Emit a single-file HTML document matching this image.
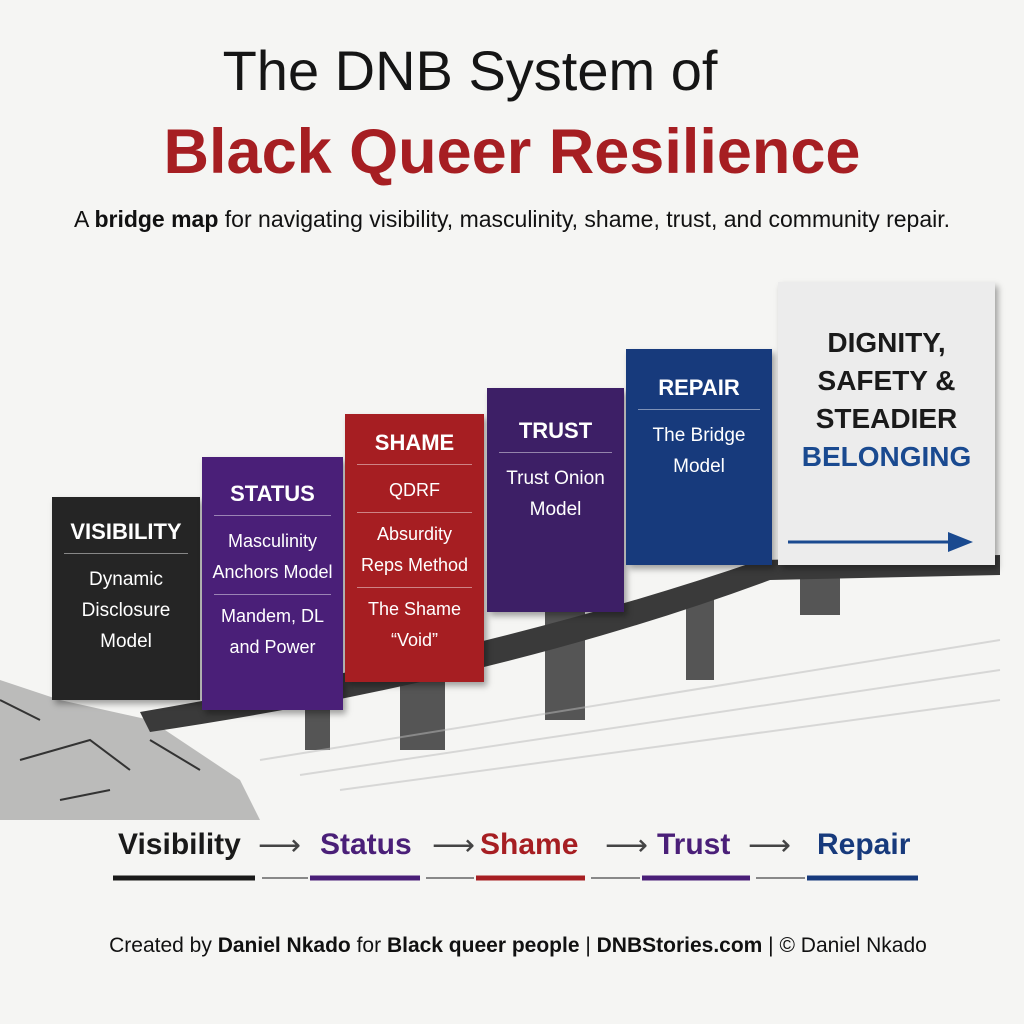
<!DOCTYPE html>
<html><head><meta charset="utf-8"><style>
body{margin:0;width:1024px;height:1024px;background:#f5f5f3;font-family:"Liberation Sans",sans-serif;position:relative;overflow:hidden}
.a{position:absolute}
.blk{position:absolute;color:#fff;text-align:center;box-shadow:3px 4px 6px rgba(0,0,0,.35)}
.blk .h{font-weight:bold;font-size:22px;padding-bottom:8px;border-bottom:1px solid rgba(255,255,255,.45);margin:0 12px 10px}
.blk .t{font-size:19px;line-height:31px}
.blk hr{border:0;border-top:1px solid rgba(255,255,255,.45);margin:6px 12px}
</style></head><body>
<div class="a" style="left:0;width:940px;top:38px;text-align:center;font-size:56px;color:#151515">The DNB System of</div>
<div class="a" style="left:0;width:1024px;top:116px;text-align:center;font-size:63px;font-weight:bold;color:#a61e22">Black Queer Resilience</div>
<div class="a" style="left:0;width:1024px;top:206px;text-align:center;font-size:23px;color:#111">A <b>bridge map</b> for navigating visibility, masculinity, shame, trust, and community repair.</div>

<svg class="a" style="left:0;top:0" width="1024" height="1024">
<path d="M0 680 L60 700 L150 720 L240 780 L260 820 L0 820Z" fill="#8a8a8a" opacity=".55"/>
<path d="M0 700 L40 720 M20 760 L90 740 L130 770 M60 800 L110 790 M150 740 L200 770" stroke="#333" stroke-width="2" fill="none"/>
<g fill="#555"><rect x="305" y="705" width="25" height="45"/><rect x="400" y="680" width="45" height="70"/><rect x="545" y="610" width="40" height="110"/><rect x="686" y="590" width="28" height="90"/><rect x="800" y="565" width="40" height="50"/></g>
<path d="M140 712 Q500 650 760 560 L1000 555 L1000 575 L770 580 Q500 680 150 732Z" fill="#3a3a3a"/>
<path d="M260 760 L1000 640 M300 775 L1000 670 M340 790 L1000 700" stroke="#bbb" stroke-width="2" opacity=".5"/>
</svg>

<div class="blk" style="left:52px;top:497px;width:148px;height:203px;background:#252525"><div style="padding-top:22px" class="h">VISIBILITY</div><div class="t">Dynamic<br>Disclosure<br>Model</div></div>
<div class="blk" style="left:202px;top:457px;width:141px;height:253px;background:#4a1f78"><div style="padding-top:24px" class="h">STATUS</div><div class="t" style="font-size:18px">Masculinity<br>Anchors Model</div><hr><div class="t" style="font-size:18px">Mandem, DL<br>and Power</div></div>
<div class="blk" style="left:345px;top:414px;width:139px;height:268px;background:#a61e22"><div style="padding-top:16px" class="h">SHAME</div><div class="t" style="font-size:18px">QDRF</div><hr><div class="t" style="font-size:18px">Absurdity<br>Reps Method</div><hr><div class="t" style="font-size:18px">The Shame<br>“Void”</div></div>
<div class="blk" style="left:487px;top:388px;width:137px;height:224px;background:#3d1f66"><div style="padding-top:30px" class="h">TRUST</div><div class="t">Trust Onion<br>Model</div></div>
<div class="blk" style="left:626px;top:349px;width:146px;height:216px;background:#173a7c"><div style="padding-top:26px" class="h">REPAIR</div><div class="t">The Bridge<br>Model</div></div>
<div class="blk" style="left:778px;top:282px;width:217px;height:283px;background:#ececec;color:#1a1a1a"><div style="padding-top:42px;font-weight:bold;font-size:28px;line-height:38px">DIGNITY,<br>SAFETY &amp;<br>STEADIER<br><span style="color:#1a4a90">BELONGING</span></div>
<svg style="position:absolute;left:10px;top:248px" width="190" height="24"><line x1="0" y1="12" x2="170" y2="12" stroke="#1a4a90" stroke-width="3"/><path d="M160 2 L185 12 L160 22Z" fill="#1a4a90"/></svg></div>

<div class="a" style="top:828px;left:0;width:1024px;font-size:30px;font-weight:bold">
<span class="a" style="left:118px;color:#1a1a1a">Visibility</span>
<span class="a" style="left:258px;color:#444;font-weight:normal">⟶</span>
<span class="a" style="left:320px;color:#4a1f78">Status</span>
<span class="a" style="left:432px;color:#444;font-weight:normal">⟶</span>
<span class="a" style="left:480px;color:#a61e22">Shame</span>
<span class="a" style="left:605px;color:#444;font-weight:normal">⟶</span>
<span class="a" style="left:657px;color:#4a1f78">Trust</span>
<span class="a" style="left:748px;color:#444;font-weight:normal">⟶</span>
<span class="a" style="left:817px;color:#173a7c">Repair</span>
</div>
<svg class="a" style="left:0;top:870px" width="1024" height="14">
<line x1="113" y1="8" x2="255" y2="8" stroke="#1a1a1a" stroke-width="5"/>
<line x1="262" y1="8" x2="308" y2="8" stroke="#888" stroke-width="2"/>
<line x1="310" y1="8" x2="420" y2="8" stroke="#4a1f78" stroke-width="5"/>
<line x1="426" y1="8" x2="474" y2="8" stroke="#888" stroke-width="2"/>
<line x1="476" y1="8" x2="585" y2="8" stroke="#a61e22" stroke-width="5"/>
<line x1="591" y1="8" x2="640" y2="8" stroke="#888" stroke-width="2"/>
<line x1="642" y1="8" x2="750" y2="8" stroke="#4a1f78" stroke-width="5"/>
<line x1="756" y1="8" x2="805" y2="8" stroke="#888" stroke-width="2"/>
<line x1="807" y1="8" x2="918" y2="8" stroke="#173a7c" stroke-width="5"/>
</svg>
<div class="a" style="left:0;width:1036px;top:934px;text-align:center;font-size:21px;color:#111">Created by <b>Daniel Nkado</b> for <b>Black queer people</b> | <b>DNBStories.com</b> | © Daniel Nkado</div>
</body></html>
